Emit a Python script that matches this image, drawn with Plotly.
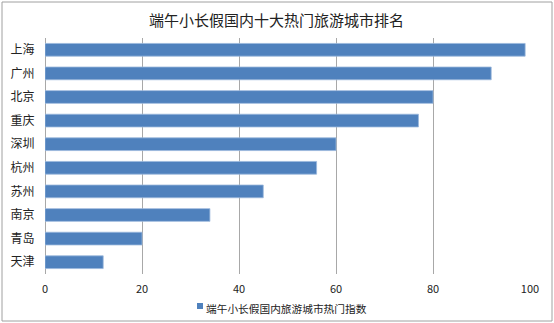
import plotly.graph_objects as go

# Dragon Boat Festival holiday: top 10 domestic travel cities
cities = ["上海", "广州", "北京", "重庆", "深圳", "杭州", "苏州", "南京", "青岛", "天津"]
heat_index = [99, 92, 80, 77, 60, 56, 45, 34, 20, 12]
series_name = "端午小长假国内旅游城市热门指数"
chart_title = "端午小长假国内十大热门旅游城市排名"
x_ticks = [0, 20, 40, 60, 80, 100]

W, H = 554, 323
ML, MR, MT, MB = 45, 24, 38, 49
PW, PH = W - ML - MR, H - MT - MB

FONT = "Noto Sans CJK SC, Microsoft YaHei, sans-serif"
BAR = "#4F81BD"
TEXT = "#222"

fig = go.Figure()
fig.add_trace(go.Bar(
    y=cities, x=heat_index, orientation="h",
    marker=dict(color=BAR, line=dict(color="#9bb7dc", width=0.8)),
    showlegend=False, name=series_name,
))


def px_x(p):
    """pixel column -> paper x"""
    return (p - ML) / PW


def px_y(p):
    """pixel row (from top) -> paper y"""
    return (H - MB - p) / PH


# compact legend: small swatch followed directly by the series name
legend_swatch = dict(type="rect", xref="paper", yref="paper",
                     x0=px_x(197), x1=px_x(203), y0=px_y(309), y1=px_y(303),
                     fillcolor=BAR, line=dict(width=0))
legend_label = dict(text=series_name, xref="paper", yref="paper",
                    x=px_x(204), y=px_y(308.5), xanchor="left", yanchor="middle",
                    showarrow=False, font=dict(size=10.7, color=TEXT, family=FONT))

frame = dict(type="rect", xref="paper", yref="paper",
             x0=px_x(2), x1=px_x(552), y0=px_y(321), y1=px_y(2),
             line=dict(color="#a0a0a0", width=1), layer="below")

fig.update_layout(
    width=W, height=H,
    margin=dict(l=ML, r=MR, t=MT, b=MB),
    paper_bgcolor="white", plot_bgcolor="white",
    font=dict(family=FONT, size=11, color=TEXT),
    title=dict(text=chart_title, x=px_x(276.5), xanchor="center",
               xref="paper", y=1 - 21 / H, yanchor="middle",
               font=dict(size=15, color=TEXT, family=FONT)),
    bargap=0.46,
    showlegend=False,
    xaxis=dict(range=[0, 100], tickvals=x_ticks, showgrid=True,
               gridcolor="#a8a8a8", gridwidth=1, zeroline=True,
               zerolinecolor="#a8a8a8", zerolinewidth=1,
               showline=False, ticks="outside", ticklen=5,
               tickcolor="rgba(0,0,0,0)", tickfont=dict(size=11, color=TEXT),
               fixedrange=True),
    yaxis=dict(autorange="reversed", showgrid=False, zeroline=False,
               showline=False, ticks="outside", ticklen=7,
               tickcolor="rgba(0,0,0,0)", tickfont=dict(size=12, color=TEXT),
               fixedrange=True),
    shapes=[frame, legend_swatch],
    annotations=[legend_label],
)

fig.write_html("out.html", config={"displayModeBar": False})
